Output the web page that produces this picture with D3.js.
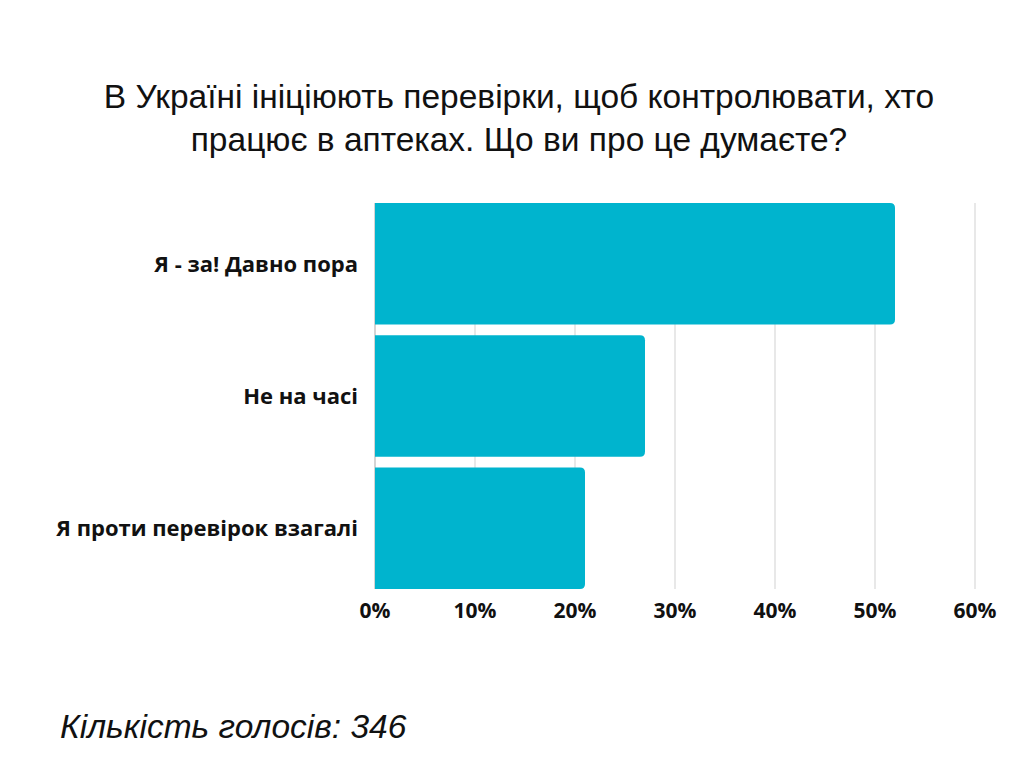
<!DOCTYPE html>
<html>
<head>
<meta charset="utf-8">
<script src="https://cdn.jsdelivr.net/npm/d3@7"></script>
<style>
  body { margin: 0; background: #fff; }
</style>
</head>
<body>
<div id="chart-area"></div>
<script>
const categories = ["Я - за! Давно пора", "Не на часі", "Я проти перевірок взагалі"];
const values = [52, 27, 21];
const ticks = [0, 10, 20, 30, 40, 50, 60];
const titleLines = ["В Україні ініціюють перевірки, щоб контролювати, хто", "працює в аптеках. Що ви про це думаєте?"];
const footer = "Кількість голосів: 346";

const svg = d3.select("#chart-area").append("svg")
  .attr("width", 1024)
  .attr("height", 768);

svg.append("rect").attr("width", 1024).attr("height", 768).attr("fill", "#fff");

const x = d3.scaleLinear()
  .domain([0, 60])
  .range([375, 975]);

const y = d3.scaleBand()
  .domain(categories)
  .range([203, 589])
  .paddingInner(0.08)
  .paddingOuter(0);

// gridlines
svg.selectAll("line.grid")
  .data(ticks)
  .enter().append("line")
  .attr("x1", d => x(d))
  .attr("x2", d => x(d))
  .attr("y1", 203)
  .attr("y2", 589)
  .attr("stroke", d => d === 0 ? "#b8b8b8" : "#d9d9d9")
  .attr("stroke-width", 1.2);

// bars, rounded on the right end only
const r = 5;
svg.selectAll("path.bar")
  .data(values)
  .enter().append("path")
  .attr("fill", "#00b4ce")
  .attr("d", (d, i) => {
    const x0 = x(0), x1 = x(d);
    const y0 = y(categories[i]), y1 = y0 + y.bandwidth();
    return `M${x0},${y0} H${x1 - r} Q${x1},${y0} ${x1},${y0 + r} V${y1 - r} Q${x1},${y1} ${x1 - r},${y1} H${x0} Z`;
  });

// category labels
svg.selectAll("text.cat")
  .data(categories)
  .enter().append("text")
  .attr("x", 358)
  .attr("y", d => y(d) + y.bandwidth() / 2)
  .attr("dy", "0.35em")
  .attr("text-anchor", "end")
  .attr("font-family", "'Open Sans', sans-serif")
  .attr("font-weight", "bold")
  .attr("font-size", 22)
  .attr("fill", "#111")
  .text(d => d);

// tick labels
svg.selectAll("text.tick")
  .data(ticks)
  .enter().append("text")
  .attr("x", d => x(d))
  .attr("y", 611)
  .attr("dy", "0.35em")
  .attr("text-anchor", "middle")
  .attr("font-family", "'Open Sans', sans-serif")
  .attr("font-weight", "bold")
  .attr("font-size", 21)
  .attr("fill", "#111")
  .text(d => d + "%");

// title
svg.selectAll("text.title")
  .data(titleLines)
  .enter().append("text")
  .attr("x", 519)
  .attr("y", (d, i) => 108 + i * 43)
  .attr("text-anchor", "middle")
  .attr("font-family", "'Liberation Sans', Arial, sans-serif")
  .attr("font-size", 33.5)
  .attr("fill", "#111")
  .text(d => d);

// footer
svg.append("text")
  .attr("x", 60)
  .attr("y", 738)
  .attr("font-family", "'Liberation Sans', Arial, sans-serif")
  .attr("font-style", "italic")
  .attr("font-size", 33.5)
  .attr("fill", "#111")
  .text(footer);
</script>
</body>
</html>
